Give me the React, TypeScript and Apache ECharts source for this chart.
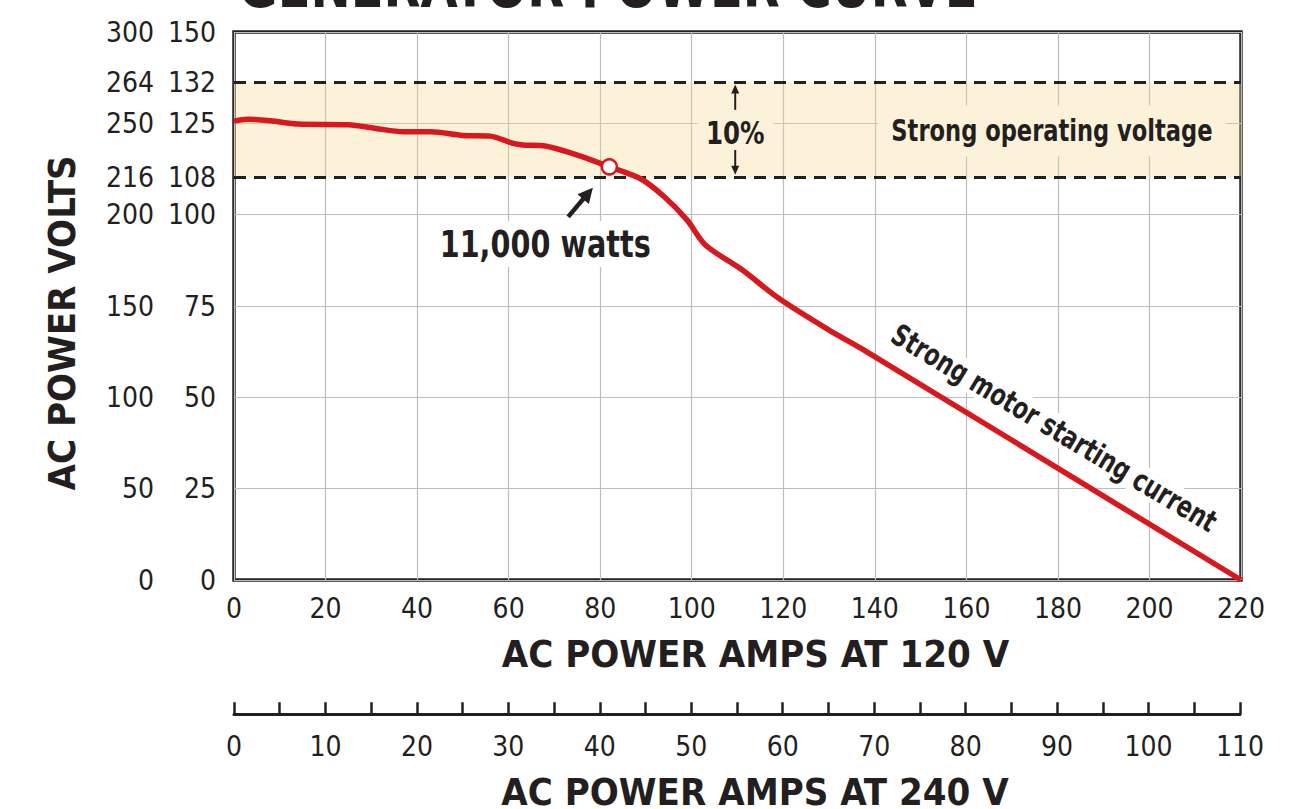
import React, { useEffect, useRef } from "react";
import * as echarts from "echarts";

// ---- data ----
// y levels (on the 0–150 "120 V" volt scale) where the left-hand labels sit
const tickLevels = [0, 25, 50, 75, 100, 110.2, 125, 136.3, 150];
const voltLabels120 = ["0", "25", "50", "75", "100", "108", "125", "132", "150"];
const voltLabels240 = ["0", "50", "100", "150", "200", "216", "250", "264", "300"];
// the ±10 % "strong operating voltage" band (same levels as the 108 / 132 labels)
const bandLevels = [110.2, 136.3];
// generator curve: amps at 120 V vs volts (120 V scale)
const curveAmps = [0, 3, 8, 14, 25, 31, 37, 43, 50, 56, 61, 63, 68, 76, 82, 89, 94, 99, 103, 111, 119, 130, 137, 220];
const curveVolts = [125.6, 126.1, 125.7, 124.8, 124.6, 123.6, 122.7, 122.7, 121.7, 121.5, 119.5, 119.1, 118.8, 115.9, 113.1, 109.7, 104.9, 98.5, 91.7, 84.9, 77.1, 68.4, 63.4, 0];
const ratedPoint = [82, 113.1];
const amps120Range = [0, 220];
const amps240Range = [0, 110];

const INK = "#231f20";
const RED = "#d7191f";
const BAND_TEXT_BG = "#fcf2d9";
const COND = "'Liberation Sans Narrow', 'DejaVu Sans Condensed', 'Arial Narrow', sans-serif";

const labelAt = (labels: string[]) => (v: number) => {
  const i = tickLevels.findIndex((t) => Math.abs(t - v) < 0.05);
  return i >= 0 ? labels[i] : "";
};

function arrow(p0: number[], p1: number[], lw: number, hl: number, hw: number) {
  const dx = p1[0] - p0[0];
  const dy = p1[1] - p0[1];
  const L = Math.hypot(dx, dy);
  const ux = dx / L;
  const uy = dy / L;
  const bx = p1[0] - ux * hl;
  const by = p1[1] - uy * hl;
  const nx = -uy;
  const ny = ux;
  return [
    { type: "line", z: 100, shape: { x1: p0[0], y1: p0[1], x2: bx + ux * 2, y2: by + uy * 2 }, style: { stroke: INK, lineWidth: lw } },
    {
      type: "polygon",
      z: 100,
      shape: { points: [[p1[0], p1[1]], [bx + (nx * hw) / 2, by + (ny * hw) / 2], [bx - (nx * hw) / 2, by - (ny * hw) / 2]] },
      style: { fill: INK },
    },
  ];
}

export default function App() {
  const ref = useRef<HTMLDivElement>(null);
  useEffect(() => {
    if (!ref.current) return;
    const chart = echarts.init(ref.current, undefined, { renderer: "svg" });
    const tickFont = { color: INK, fontSize: 28, fontFamily: COND };
    const nameFont = { color: INK, fontSize: 38, fontWeight: "bold" as const, fontFamily: COND };
    chart.setOption({
      animation: false,
      backgroundColor: "#ffffff",
      grid: [
        { left: 234, top: 32, width: 1007, height: 548, show: true, borderColor: INK, borderWidth: 3.5, backgroundColor: "transparent" },
        { left: 234, top: 714, width: 1006, height: 1 },
      ],
      xAxis: [
        {
          type: "value",
          gridIndex: 0,
          min: amps120Range[0],
          max: amps120Range[1],
          interval: 20,
          axisLine: { show: false },
          axisTick: { show: false },
          axisLabel: { ...tickFont, margin: 14 },
          splitLine: { show: true, lineStyle: { color: "#bdbdbd", width: 1.2 } },
          name: "AC POWER AMPS AT 120 V",
          nameLocation: "middle",
          nameGap: 55,
          nameTextStyle: { ...nameFont, padding: [0, 0, 0, 36] },
        },
        {
          type: "value",
          gridIndex: 1,
          position: "bottom",
          min: amps240Range[0],
          max: amps240Range[1],
          interval: 5,
          axisLine: { show: true, lineStyle: { color: INK, width: 3 } },
          axisTick: { show: true, inside: true, length: 12, lineStyle: { color: INK, width: 2.5 } },
          axisLabel: { ...tickFont, margin: 18, formatter: (v: number) => (v % 10 === 0 ? String(v) : "") },
          splitLine: { show: false },
          name: "AC POWER AMPS AT 240 V",
          nameLocation: "middle",
          nameGap: 59,
          nameTextStyle: { ...nameFont, padding: [0, 0, 0, 36] },
        },
      ],
      yAxis: [
        {
          type: "value",
          gridIndex: 0,
          min: 0,
          max: 150,
          interval: 25,
          axisLine: { show: false },
          axisTick: { show: false },
          axisLabel: { ...tickFont, margin: 18, padding: [10, 0, 0, 0], customValues: tickLevels, formatter: labelAt(voltLabels120) },
          splitLine: { show: true, lineStyle: { color: "#bdbdbd", width: 1.2 } },
        },
        {
          type: "value",
          gridIndex: 0,
          position: "left",
          offset: 62,
          min: 0,
          max: 150,
          interval: 25,
          axisLine: { show: false },
          axisTick: { show: false },
          axisLabel: { ...tickFont, margin: 18, padding: [10, 0, 0, 0], customValues: tickLevels, formatter: labelAt(voltLabels240) },
          splitLine: { show: false },
          name: "AC POWER VOLTS",
          nameLocation: "middle",
          nameRotate: 90,
          nameGap: 91,
          nameTextStyle: { ...nameFont, padding: [0, 34, 0, 0] },
        },
        { type: "value", gridIndex: 1, show: false, min: 0, max: 1 },
      ],
      series: [
        {
          type: "line",
          name: "Generator curve",
          xAxisIndex: 0,
          yAxisIndex: 0,
          data: curveAmps.map((a, i) => [a, curveVolts[i]]),
          smooth: 0.3,
          symbol: "none",
          lineStyle: { color: RED, width: 5.5 },
          z: 5,
          markArea: {
            silent: true,
            itemStyle: { color: "rgba(245, 214, 140, 0.33)" },
            label: { show: false },
            data: [[{ yAxis: bandLevels[0] }, { yAxis: bandLevels[1] }]],
          },
          markLine: {
            silent: true,
            symbol: "none",
            label: { show: false },
            lineStyle: { color: INK, type: [12, 8], width: 3 },
            data: bandLevels.map((v) => ({ yAxis: v })),
          },
        },
        {
          type: "scatter",
          name: "Rated point",
          xAxisIndex: 0,
          yAxisIndex: 0,
          data: [ratedPoint],
          symbol: "circle",
          symbolSize: 15,
          itemStyle: { color: "#ffffff", borderColor: RED, borderWidth: 2.5, opacity: 1 },
          z: 6,
        },
      ],
    });

    const px = (x: number, y: number) => chart.convertToPixel({ xAxisIndex: 0, yAxisIndex: 0 }, [x, y]) as number[];
    const pct = px(109.5, 122.4);
    const sov = px(178.7, 122.9);
    const watts = px(68, 92);
    const motor = px(179.2, 41.6);
    const graphic: any[] = [
      {
        type: "text",
        x: 608,
        y: -14,
        z: 100,
        scaleX: 0.89,
        style: { text: "GENERATOR POWER CURVE", fill: INK, font: `bold 60px ${COND}`, align: "center", verticalAlign: "middle" },
      },
      {
        type: "text",
        x: pct[0],
        y: pct[1],
        z: 100,
        scaleX: 0.85,
        style: { text: "10%", fill: INK, font: `bold 32px ${COND}`, align: "center", verticalAlign: "middle", backgroundColor: BAND_TEXT_BG, padding: [4, 10] },
      },
      ...arrow(px(109.5, 128.7), px(109.5, 135.6), 2, 9, 8),
      ...arrow(px(109.5, 117.7), px(109.5, 110.9), 2, 9, 8),
      {
        type: "text",
        x: sov[0],
        y: sov[1],
        z: 100,
        scaleX: 0.81,
        style: { text: "Strong operating voltage", fill: INK, font: `bold 31px ${COND}`, align: "center", verticalAlign: "middle", backgroundColor: BAND_TEXT_BG, padding: [10, 16] },
      },
      {
        type: "text",
        x: watts[0],
        y: watts[1],
        z: 100,
        scaleX: 0.84,
        style: { text: "11,000 watts", fill: INK, font: `bold 38px ${COND}`, align: "center", verticalAlign: "middle", backgroundColor: "#ffffff", padding: [4, 8] },
      },
      ...arrow(px(73, 99.4), px(78.4, 107.4), 4.5, 15, 15),
      {
        type: "text",
        x: motor[0],
        y: motor[1],
        z: 100,
        scaleX: 0.82,
        rotation: (-31 * Math.PI) / 180,
        style: { text: "Strong motor starting current", fill: INK, font: `bold 30px ${COND}`, align: "center", verticalAlign: "middle", backgroundColor: "#ffffff", padding: [0, 6] },
      },
    ];
    chart.setOption({ graphic });
    return () => chart.dispose();
  }, []);
  return <div ref={ref} style={{ position: "absolute", left: 0, top: 0, width: 1301, height: 809 }} />;
}
